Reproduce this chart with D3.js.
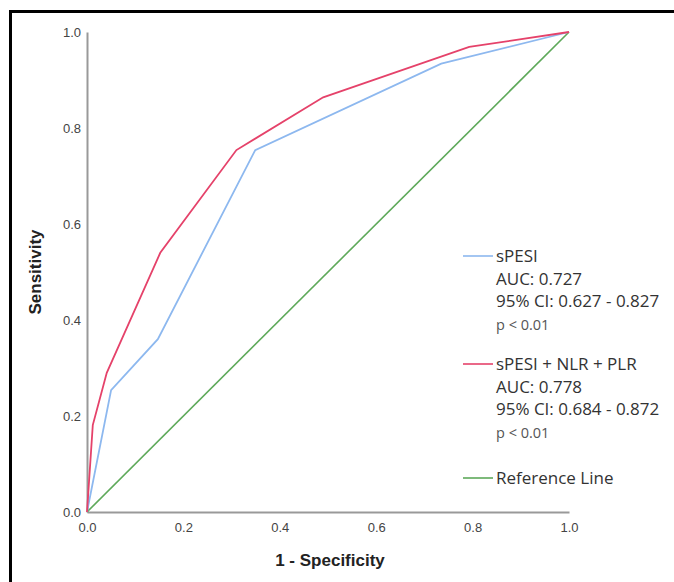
<!DOCTYPE html>
<html>
<head>
<meta charset="utf-8">
<script src="https://cdn.jsdelivr.net/npm/d3@7"></script>
<style>
  html, body { margin: 0; padding: 0; background: #fff; }
  svg { display: block; }
</style>
</head>
<body>
<svg id="chart" width="674" height="582"></svg>
<script>
// ---- Data ----
const spesiFpr  = [0, 0.05, 0.147, 0.349, 0.735, 1];
const spesiTpr  = [0, 0.254, 0.36, 0.754, 0.934, 1];
const comboFpr  = [0, 0.012, 0.041, 0.152, 0.31, 0.49, 0.793, 1];
const comboTpr  = [0, 0.181, 0.29, 0.54, 0.754, 0.864, 0.969, 1];
const refFpr    = [0, 1];
const refTpr    = [0, 1];
const tickValues = [0, 0.2, 0.4, 0.6, 0.8, 1.0];
const tickLabels = ["0.0", "0.2", "0.4", "0.6", "0.8", "1.0"];
const seriesNames = ["sPESI", "sPESI + NLR + PLR", "Reference Line"];
const legendLines = [
  ["AUC: 0.727", "95% CI: 0.627 - 0.827", "p < 0.01"],
  ["AUC: 0.778", "95% CI: 0.684 - 0.872", "p < 0.01"],
  []
];
const colors = ["#8db8ef", "#e5426a", "#5ea95a"];

// ---- Layout ----
const svg = d3.select("#chart");
svg.append("rect").attr("x", 0).attr("y", 0).attr("width", 674).attr("height", 582).attr("fill", "#fff");
// frame
svg.append("rect").attr("x", 10.5).attr("y", 11.5).attr("width", 800).attr("height", 800)
  .attr("fill", "none").attr("stroke", "#000").attr("stroke-width", 3);

const x = d3.scaleLinear().domain([0, 1]).range([87, 569]);
const y = d3.scaleLinear().domain([0, 1]).range([512, 32]);

// axes
const xAxis = d3.axisBottom(x).tickValues(tickValues).tickFormat((d, i) => tickLabels[i]).tickSize(0).tickPadding(8);
const yAxis = d3.axisLeft(y).tickValues(tickValues).tickFormat((d, i) => tickLabels[i]).tickSize(0).tickPadding(6);

const gx = svg.append("g").attr("transform", `translate(0,${y(0)})`).call(xAxis);
const gy = svg.append("g").attr("transform", `translate(${x(0)},0)`).call(yAxis);
[gx, gy].forEach(g => {
  g.select(".domain").attr("stroke", "#999").attr("stroke-width", 2);
  g.selectAll("text").attr("font-family", "Liberation Sans, Arial, sans-serif")
    .attr("font-size", 13).attr("fill", "#444");
});
gx.selectAll("text").attr("dy", "0.9em");
gy.selectAll("text").attr("dy", "0.35em");

// lines
const line = d3.line().x(d => x(d[0])).y(d => y(d[1]));
const ref = d3.zip(refFpr, refTpr);
const sp = d3.zip(spesiFpr, spesiTpr);
const co = d3.zip(comboFpr, comboTpr);
svg.append("path").datum(ref).attr("d", line).attr("fill", "none").attr("stroke", colors[2]).attr("stroke-width", 1.6);
svg.append("path").datum(sp).attr("d", line).attr("fill", "none").attr("stroke", colors[0]).attr("stroke-width", 1.8);
svg.append("path").datum(co).attr("d", line).attr("fill", "none").attr("stroke", colors[1]).attr("stroke-width", 1.8);

// axis titles
svg.append("text").attr("x", 330).attr("y", 566).attr("text-anchor", "middle")
  .attr("font-family", "Liberation Sans, Arial, sans-serif").attr("font-weight", "bold")
  .attr("font-size", 17).attr("fill", "#222").text("1 - Specificity");
svg.append("text").attr("transform", "translate(41,272) rotate(-90)").attr("text-anchor", "middle")
  .attr("font-family", "Liberation Sans, Arial, sans-serif").attr("font-weight", "bold")
  .attr("font-size", 17).attr("fill", "#222").text("Sensitivity");

// legend
const legendY = [256, 364, 478];
const lg = svg.append("g");
seriesNames.forEach((name, i) => {
  const ly = legendY[i];
  lg.append("line").attr("x1", 463).attr("x2", 493).attr("y1", ly).attr("y2", ly)
    .attr("stroke", colors[i]).attr("stroke-width", 1.6);
  lg.append("text").attr("x", 496).attr("y", ly + 6).attr("font-family", "Open Sans, sans-serif")
    .attr("font-size", 17).attr("fill", "#333").text(name);
  legendLines[i].forEach((t, j) => {
    const isP = t.startsWith("p");
    lg.append("text").attr("x", 496).attr("y", ly + 6 + 22.5 * (j + 1))
      .attr("font-family", "Open Sans, sans-serif")
      .attr("font-size", isP ? 14.5 : 17).attr("fill", isP ? "#555" : "#333").text(t);
  });
});
</script>
</body>
</html>
